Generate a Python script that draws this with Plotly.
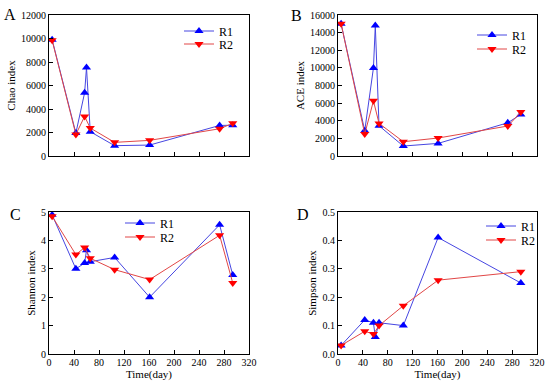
import plotly.graph_objects as go

# ---- data ----
days_r1 = [5, 43, 57, 60, 66, 105, 161, 273, 294]
days_r2 = [5, 43, 57, 66, 105, 161, 273, 294]
days_r1_simpson = [5, 43, 57, 60, 66, 105, 161, 294]
days_r2_simpson = [5, 43, 57, 66, 105, 161, 294]

chao_r1 = [9900, 1950, 5380, 7530, 2070, 880, 930, 2600, 2620]
chao_r2 = [9850, 1840, 3370, 2380, 1160, 1330, 2320, 2780]
ace_r1 = [15000, 2870, 10000, 14800, 3430, 1130, 1430, 3770, 4720]
ace_r2 = [15000, 2490, 6260, 3700, 1620, 2040, 3400, 4980]
shannon_r1 = [4.9, 3.0, 3.2, 3.65, 3.25, 3.4, 2.0, 4.55, 2.78]
shannon_r2 = [4.85, 3.5, 3.75, 3.37, 2.97, 2.62, 4.18, 2.5]
simpson_r1 = [0.03, 0.12, 0.11, 0.06, 0.11, 0.10, 0.41, 0.25]
simpson_r2 = [0.03, 0.08, 0.07, 0.10, 0.17, 0.26, 0.29]

panel_letters = ["A", "B", "C", "D"]
y_titles = ["Chao index", "ACE index", "Shannon index", "Simpson index"]
x_title = "Time(day)"
series_names = ["R1", "R2"]

FONT = "Liberation Serif, Times New Roman, serif"
BLUE_LINE = "rgb(70,70,225)"
RED_LINE = "rgb(225,70,70)"

W, H = 550, 384
# plot-area pixel boxes (left, right, top, bottom)
boxes = [(49, 249, 15, 156), (338, 537, 15, 156), (49, 249, 212, 354), (338, 537, 212, 354)]

panels = [
    (days_r1, chao_r1, days_r2, chao_r2, [0, 12000], 2000, "d"),
    (days_r1, ace_r1, days_r2, ace_r2, [0, 16000], 2000, "d"),
    (days_r1, shannon_r1, days_r2, shannon_r2, [0, 5], 1, "d"),
    (days_r1_simpson, simpson_r1, days_r2_simpson, simpson_r2, [0, 0.5], 0.1, ".1f"),
]

# legend key (x of marker, y of R1, y of R2) per panel
legend_pos = [(204, 31, 44), (497, 35, 49), (145, 223, 237), (506, 226, 240)]
# panel letter centres
letter_pos = [(10, 14), (296, 15), (15, 214), (303, 214)]

fig = go.Figure()
layout = dict(
    width=W, height=H, margin=dict(l=0, r=0, t=0, b=0, autoexpand=False),
    paper_bgcolor="white", plot_bgcolor="white",
    font=dict(family=FONT, size=11, color="black"),
    annotations=[], showlegend=True,
)

for i, (xa, ya, xb, yb, yr, dt, fmt) in enumerate(panels):
    n = i + 1
    xs = "x" if n == 1 else f"x{n}"
    ys = "y" if n == 1 else f"y{n}"
    lg1 = "legend" if n == 1 else f"legend{2 * n - 1}"
    lg2 = f"legend{2 * n}"
    fig.add_trace(go.Scatter(
        x=xa, y=ya, xaxis=xs, yaxis=ys, name=series_names[0], legend=lg1, mode="lines+markers",
        line=dict(color=BLUE_LINE, width=1),
        marker=dict(symbol="triangle-up", size=8, color="rgb(0,0,255)"),
    ))
    fig.add_trace(go.Scatter(
        x=xb, y=yb, xaxis=xs, yaxis=ys, name=series_names[1], legend=lg2, mode="lines+markers",
        line=dict(color=RED_LINE, width=1),
        marker=dict(symbol="triangle-down", size=8, color="rgb(255,0,0)"),
    ))
    l, r, t, b = boxes[i]
    xkey = "xaxis" if n == 1 else f"xaxis{n}"
    ykey = "yaxis" if n == 1 else f"yaxis{n}"
    show_xlabels = n >= 3
    layout[xkey] = dict(
        domain=[l / W, r / W], anchor=ys, range=[0, 320], dtick=40, tick0=0,
        showgrid=False, zeroline=False, showline=True, linecolor="black", linewidth=1,
        mirror=True, ticks="inside", ticklen=4, tickcolor="black", automargin=False,
        showticklabels=show_xlabels, tickfont=dict(size=10), ticklabelstandoff=-1,
        title=dict(text=x_title if show_xlabels else "", font=dict(size=11), standoff=0),
    )
    layout[ykey] = dict(
        domain=[1 - b / H, 1 - t / H], anchor=xs, range=yr, dtick=dt, tick0=0,
        showgrid=False, zeroline=False, showline=True, linecolor="black", linewidth=1,
        mirror=True, ticks="inside", ticklen=4, tickcolor="black", automargin=False,
        tickfont=dict(size=10), tickformat=fmt,
        title=dict(text=y_titles[i], font=dict(size=11), standoff=3),
    )
    lx, ly1, ly2 = legend_pos[i]
    for lg, ly in ((lg1, ly1), (lg2, ly2)):
        layout[lg] = dict(
            x=(lx - 25) / W, y=1 - ly / H, xanchor="left", yanchor="middle",
            bgcolor="rgba(0,0,0,0)", font=dict(size=12), itemwidth=30,
        )
    px, py = letter_pos[i]
    layout["annotations"].append(dict(
        text=panel_letters[i], xref="paper", yref="paper",
        x=px / W, y=1 - py / H, xanchor="center", yanchor="middle",
        showarrow=False, font=dict(size=16, family=FONT),
    ))

fig.update_layout(**layout)
fig.write_html("out.html", post_script="document.body.style.margin='0px';",
               config={"displayModeBar": False})
